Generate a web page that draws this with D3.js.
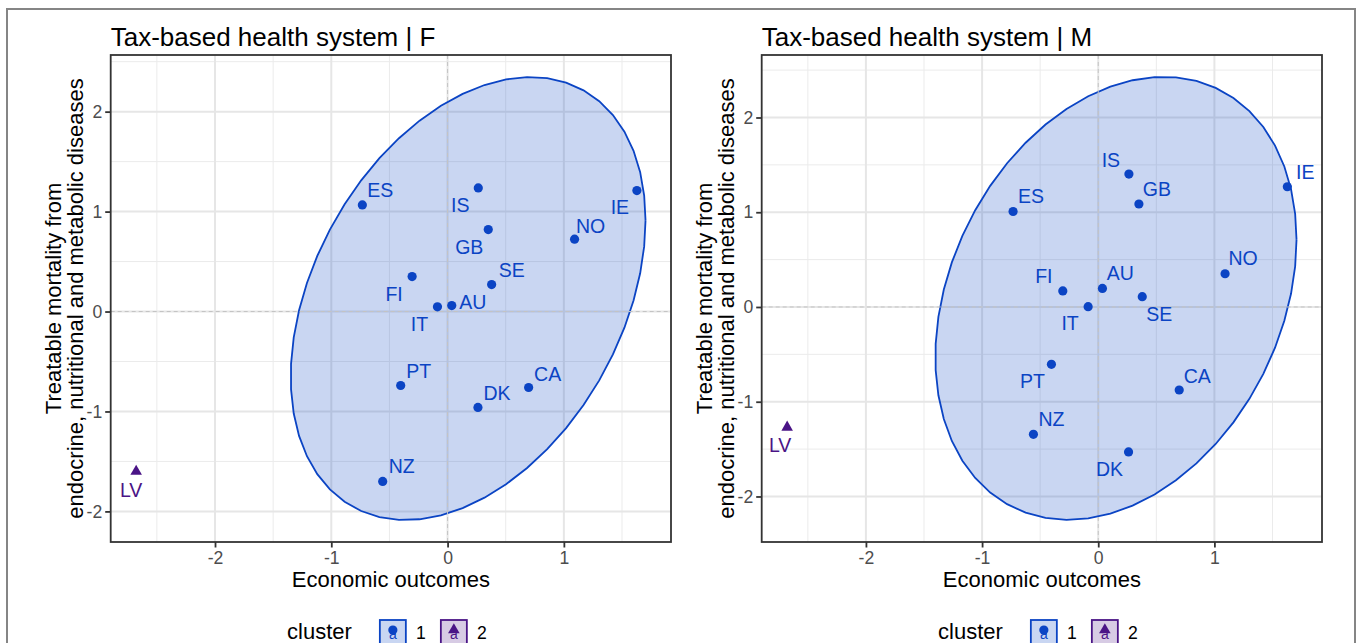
<!DOCTYPE html>
<html>
<head>
<meta charset="utf-8">
<script src="https://cdn.jsdelivr.net/npm/d3@7"></script>
<style>
  body { margin: 0; background: #fff; }
  svg { display: block; font-family: "Liberation Sans", Arial, Helvetica, sans-serif; }
</style>
</head>
<body>
<svg id="fig" width="1358" height="643"></svg>
<script>
// ---- data -------------------------------------------------------------
const countries  = ["ES","IS","IE","NO","GB","SE","FI","IT","AU","PT","DK","CA","NZ","LV"];
const cluster    = [1,1,1,1,1,1,1,1,1,1,1,1,1,2];
const economic   = [-0.733,0.264,1.628,1.092,0.350,0.379,-0.305,-0.087,0.036,-0.403,0.261,0.697,-0.558,-2.678];
const mortalityF = [1.067,1.237,1.210,0.724,0.820,0.270,0.350,0.047,0.060,-0.740,-0.960,-0.760,-1.700,-1.600];
const mortalityM = [1.008,1.403,1.269,0.351,1.087,0.109,0.169,0.003,0.196,-0.605,-1.530,-0.876,-1.344,-1.270];
const xTicks = [-2,-1,0,1];
const yTicks = [-2,-1,0,1,2];
const panelTitles = ["Tax-based health system | F", "Tax-based health system | M"];
const xTitle = "Economic outcomes";
const yTitle = ["Treatable mortality from", "endocrine, nutritional and metabolic diseases"];
const legendTitle = "cluster";
const clusterLevels = [1, 2];

// ---- style / layout -----------------------------------------------------
const colors = { 1: "#0b44c4", 2: "#4a1486" };
const W = 1358, H = 643;
const panels = [
  { key: "F", y: mortalityF, title: panelTitles[0], box: { x0: 110.7, x1: 671, y0: 55, y1: 542 } },
  { key: "M", y: mortalityM, title: panelTitles[1], box: { x0: 761.7, x1: 1322, y0: 55, y1: 542 } }
];
// label placement around each point (repelled text), offsets in px
const labelNudge = {
  F: { ES:[18,-15], IS:[-18,17], IE:[-17,16], NO:[16,-13], GB:[-19,17], SE:[20,-15], FI:[-18,17],
       IT:[-18,17], AU:[21,-4], PT:[18,-15], DK:[19,-14], CA:[19,-14], NZ:[19,-15], LV:[-5,19] },
  M: { IS:[-18,-14], GB:[18,-15], ES:[18,-15], IE:[18,-15], NO:[18,-16], FI:[-19,-15], AU:[18,-15],
       SE:[17,17], IT:[-18,16], PT:[-19,17], CA:[18,-14], NZ:[18,-15], DK:[-19,17], LV:[-7,18] }
};

// ---- robust (multivariate t) ellipse, as in stat_ellipse(type = "t") ----
function covTrob(pts, nu = 5, maxit = 25, tol = 0.01) {
  const n = pts.length, p = 2;
  let loc = [d3.mean(pts, d => d[0]), d3.mean(pts, d => d[1])];
  let w = pts.map(() => 1), X;
  for (let it = 0; it < maxit; it++) {
    const w0 = w.slice();
    X = pts.map(d => [d[0] - loc[0], d[1] - loc[1]]);
    const sw = d3.sum(w);
    let a = 0, b = 0, c = 0;
    X.forEach((x, i) => { a += w[i]*x[0]*x[0]; b += w[i]*x[0]*x[1]; c += w[i]*x[1]*x[1]; });
    a /= sw; b /= sw; c /= sw;
    const det = a*c - b*b;
    const Q = X.map(x => (c*x[0]*x[0] - 2*b*x[0]*x[1] + a*x[1]*x[1]) / det);
    w = Q.map(q => (nu + p) / (nu + q));
    const sw2 = d3.sum(w);
    loc = [d3.sum(pts, (d, i) => w[i]*d[0]) / sw2, d3.sum(pts, (d, i) => w[i]*d[1]) / sw2];
    if (w.every((v, i) => Math.abs(v - w0[i]) < tol)) break;
  }
  let a = 0, b = 0, c = 0;
  X.forEach((x, i) => { a += w[i]*x[0]*x[0]; b += w[i]*x[0]*x[1]; c += w[i]*x[1]*x[1]; });
  return { center: loc, cov: [a/n, b/n, c/n] };
}
function ellipsePoints(pts, level = 0.95, segments = 51) {
  const { center, cov } = covTrob(pts);
  const dfd = pts.length - 1;
  const fq = dfd / 2 * (Math.pow(1 - level, -2 / dfd) - 1);   // qf(level, 2, dfd)
  const r = Math.sqrt(2 * fq);
  const r11 = Math.sqrt(cov[0]), r12 = cov[1] / r11, r22 = Math.sqrt(cov[2] - r12*r12);
  return d3.range(segments + 1).map(k => {
    const t = k * 2 * Math.PI / segments, cs = Math.cos(t), sn = Math.sin(t);
    return [center[0] + r * cs * r11, center[1] + r * (cs * r12 + sn * r22)];
  });
}
function expand(ext) { const d = (ext[1] - ext[0]) * 0.05; return [ext[0] - d, ext[1] + d]; }
function minorBreaks(ticks, dom) {
  const step = ticks[1] - ticks[0];
  const ext = [ticks[0] - step, ...ticks, ticks[ticks.length - 1] + step];
  const out = [];
  for (let i = 0; i < ext.length - 1; i++) {
    const m = (ext[i] + ext[i+1]) / 2;
    if (m >= dom[0] && m <= dom[1]) out.push(m);
  }
  return out;
}

const svg = d3.select("#fig");
svg.append("rect").attr("x", 0).attr("y", 0).attr("width", W).attr("height", H).attr("fill", "#fff");
svg.append("rect").attr("x", 7).attr("y", 9).attr("width", 1348).attr("height", 700)
  .attr("fill", "none").attr("stroke", "#858585").attr("stroke-width", 2);

panels.forEach(panel => {
  const b = panel.box;
  const rows = countries.map((c, i) => ({ name: c, cl: cluster[i], x: economic[i], y: panel.y[i] }));
  const ell = ellipsePoints(rows.filter(r => r.cl === 1).map(r => [r.x, r.y]));

  const allX = rows.map(r => r.x).concat(ell.map(e => e[0]));
  const allY = rows.map(r => r.y).concat(ell.map(e => e[1]));
  const xDom = expand(d3.extent(allX)), yDom = expand(d3.extent(allY));
  const x = d3.scaleLinear().domain(xDom).range([b.x0, b.x1]);
  const y = d3.scaleLinear().domain(yDom).range([b.y1, b.y0]);

  const g = svg.append("g");
  g.append("defs").append("clipPath").attr("id", "clip" + panel.key)
    .append("rect").attr("x", b.x0).attr("y", b.y0).attr("width", b.x1 - b.x0).attr("height", b.y1 - b.y0);

  const grid = g.append("g");
  minorBreaks(xTicks, xDom).forEach(v => grid.append("line")
    .attr("x1", x(v)).attr("x2", x(v)).attr("y1", b.y0).attr("y2", b.y1)
    .attr("stroke", "#ebebeb").attr("stroke-width", 1));
  minorBreaks(yTicks, yDom).forEach(v => grid.append("line")
    .attr("y1", y(v)).attr("y2", y(v)).attr("x1", b.x0).attr("x2", b.x1)
    .attr("stroke", "#ebebeb").attr("stroke-width", 1));
  xTicks.forEach(v => grid.append("line")
    .attr("x1", x(v)).attr("x2", x(v)).attr("y1", b.y0).attr("y2", b.y1)
    .attr("stroke", "#e6e6e6").attr("stroke-width", 2));
  yTicks.forEach(v => grid.append("line")
    .attr("y1", y(v)).attr("y2", y(v)).attr("x1", b.x0).attr("x2", b.x1)
    .attr("stroke", "#e6e6e6").attr("stroke-width", 2));

  const plot = g.append("g").attr("clip-path", `url(#clip${panel.key})`);
  plot.append("path").datum(ell)
    .attr("d", d3.line().x(d => x(d[0])).y(d => y(d[1])))
    .attr("fill", colors[1]).attr("fill-opacity", 0.22)
    .attr("stroke", colors[1]).attr("stroke-width", 1.8);

  // reference lines at zero
  plot.append("line").attr("x1", b.x0).attr("x2", b.x1).attr("y1", y(0)).attr("y2", y(0))
    .attr("stroke", "#c4c4c4").attr("stroke-width", 1).attr("stroke-dasharray", "4,3");
  plot.append("line").attr("y1", b.y0).attr("y2", b.y1).attr("x1", x(0)).attr("x2", x(0))
    .attr("stroke", "#c4c4c4").attr("stroke-width", 1).attr("stroke-dasharray", "4,3");

  // points and their labels
  rows.forEach(r => {
    if (r.cl === 1) {
      plot.append("circle").attr("cx", x(r.x)).attr("cy", y(r.y)).attr("r", 4.6).attr("fill", colors[1]);
    } else {
      plot.append("path").attr("transform", `translate(${x(r.x)},${y(r.y)})`)
        .attr("d", d3.symbol(d3.symbolTriangle, 58)()).attr("fill", colors[2]);
    }
    const nd = labelNudge[panel.key][r.name];
    plot.append("text").attr("x", x(r.x) + nd[0]).attr("y", y(r.y) + nd[1]).attr("dy", "0.36em")
      .attr("text-anchor", "middle").attr("font-size", 19.5).attr("fill", colors[r.cl]).text(r.name);
  });

  // panel border
  g.append("rect").attr("x", b.x0).attr("y", b.y0).attr("width", b.x1 - b.x0).attr("height", b.y1 - b.y0)
    .attr("fill", "none").attr("stroke", "#333").attr("stroke-width", 1.8);

  // axes
  const xa = g.append("g").attr("transform", `translate(0,${b.y1})`)
    .call(d3.axisBottom(x).tickValues(xTicks).tickFormat(d3.format("d")).tickSize(5.5).tickPadding(4));
  const ya = g.append("g").attr("transform", `translate(${b.x0},0)`)
    .call(d3.axisLeft(y).tickValues(yTicks).tickFormat(d3.format("d")).tickSize(5.5).tickPadding(3));
  [xa, ya].forEach(a => {
    a.select(".domain").remove();
    a.selectAll(".tick line").attr("stroke", "#333").attr("stroke-width", 1.8);
    a.selectAll(".tick text").attr("fill", "#4d4d4d").attr("font-size", 17.6)
      .attr("font-family", "Liberation Sans, Arial, sans-serif")
      .text(d => d < 0 ? "-" + Math.abs(d) : String(d));
  });

  // titles
  g.append("text").attr("x", b.x0).attr("y", 46).attr("font-size", 26).attr("fill", "#000").text(panel.title);
  const cx = (b.x0 + b.x1) / 2, cy = (b.y0 + b.y1) / 2;
  g.append("text").attr("x", cx).attr("y", 587).attr("text-anchor", "middle")
    .attr("font-size", 22).attr("fill", "#000").text(xTitle);
  yTitle.forEach((t, i) => {
    g.append("text").attr("transform", `translate(${b.x0 - 58 + i * 22.5},${cy}) rotate(-90)`)
      .attr("text-anchor", "middle").attr("dy", "0.36em").attr("font-size", 22).attr("fill", "#000").text(t);
  });

  // legend
  const lg = g.append("g");
  lg.append("text").attr("x", cx - 39).attr("y", 639).attr("text-anchor", "end")
    .attr("font-size", 22).attr("fill", "#000").text(legendTitle);
  clusterLevels.forEach((lv, i) => {
    const kx = cx - 11 + i * 61;
    lg.append("rect").attr("x", kx).attr("y", 620).attr("width", 26).attr("height", 30)
      .attr("fill", colors[lv]).attr("fill-opacity", 0.22).attr("stroke", colors[lv]).attr("stroke-width", 1.8);
    lg.append("text").attr("x", kx + 13).attr("y", 639).attr("text-anchor", "middle")
      .attr("font-size", 14).attr("fill", colors[lv]).text("a");
    if (lv === 1) {
      lg.append("circle").attr("cx", kx + 13).attr("cy", 630).attr("r", 4.6).attr("fill", colors[1]);
    } else {
      lg.append("path").attr("transform", `translate(${kx + 13},${630})`)
        .attr("d", d3.symbol(d3.symbolTriangle, 58)()).attr("fill", colors[2]);
    }
    lg.append("text").attr("x", kx + 41).attr("y", 639).attr("text-anchor", "middle")
      .attr("font-size", 17.6).attr("fill", "#000").text(String(lv));
  });
});
</script>
</body>
</html>
